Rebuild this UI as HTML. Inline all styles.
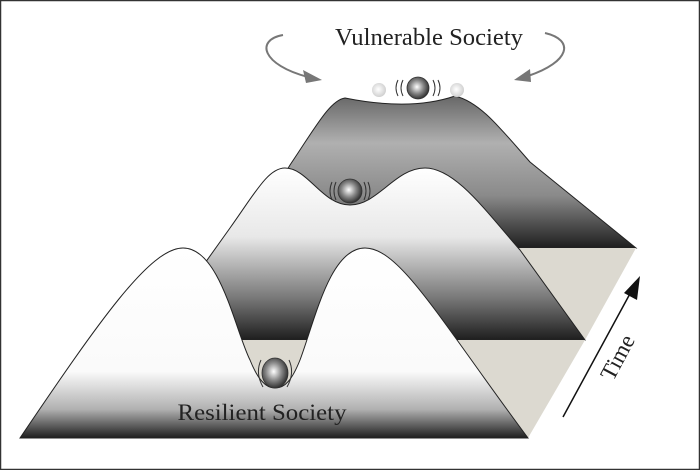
<!DOCTYPE html>
<html><head><style>
html,body{margin:0;padding:0;background:#fff}
svg{display:block}
.t{font-family:"Liberation Serif","Times New Roman","DejaVu Serif",serif;fill:#222}
</style></head><body>
<svg width="700" height="470" viewBox="0 0 700 470" xmlns="http://www.w3.org/2000/svg">
<defs>
<linearGradient id="gb" gradientUnits="userSpaceOnUse" x1="0" y1="98" x2="0" y2="248">
<stop offset="0" stop-color="#6a6a6a"/><stop offset="0.3" stop-color="#b0b0b0"/><stop offset="0.65" stop-color="#8a8a8a"/><stop offset="1" stop-color="#1e1e1e"/></linearGradient>
<linearGradient id="gm" gradientUnits="userSpaceOnUse" x1="0" y1="168" x2="0" y2="340">
<stop offset="0" stop-color="#fff"/><stop offset="0.4" stop-color="#e8e8e8"/><stop offset="0.75" stop-color="#7a7a7a"/><stop offset="1" stop-color="#1e1e1e"/></linearGradient>
<linearGradient id="gf" gradientUnits="userSpaceOnUse" x1="0" y1="248" x2="0" y2="438">
<stop offset="0" stop-color="#fff"/><stop offset="0.65" stop-color="#fafafa"/><stop offset="0.85" stop-color="#b0b0b0"/><stop offset="1" stop-color="#1e1e1e"/></linearGradient>
<radialGradient id="ball" cx="0.45" cy="0.45" r="0.6">
<stop offset="0" stop-color="#fff"/><stop offset="0.5" stop-color="#888"/><stop offset="1" stop-color="#222"/></radialGradient>
<radialGradient id="fball" cx="0.45" cy="0.45" r="0.6">
<stop offset="0" stop-color="#fff"/><stop offset="1" stop-color="#ccc"/></radialGradient>
</defs>
<rect x="0.5" y="0.5" width="699" height="469" fill="#fff" stroke="#333" stroke-width="1.5"/>

<path d="M240,248 L290,165 C315,128 330,100 345,98 C380,105 420,108 455,96 C480,102 500,128 530,162 L636,248 Z" fill="url(#gb)" stroke="#222" stroke-width="1"/>
<polygon points="470,248 636,248 585,340 470,340" fill="#dcd9d0"/>

<path d="M150,340 L230,228 C255,193 268,168 285,168 C308,168 322,205 350,205 C378,205 395,168 425,168 C455,168 485,210 520,250 L585,340 Z" fill="url(#gm)" stroke="#222" stroke-width="1"/>
<polygon points="200,340 585,340 528,438 180,438" fill="#dcd9d0"/>

<path d="M20,438 C100,320 150,248 183,248 C220,248 235,330 250,360 C258,380 266,388 275,388 C285,388 292,380 300,360 C315,320 330,248 365,248 C400,248 440,320 528,438 Z" fill="url(#gf)" stroke="#222" stroke-width="1"/>

<circle cx="379" cy="90" r="7" fill="url(#fball)"/>
<circle cx="457" cy="90" r="7" fill="url(#fball)"/>
<circle cx="418" cy="88" r="11" fill="url(#ball)" stroke="#333" stroke-width="0.8"/>
<g fill="none" stroke="#333" stroke-width="1">
<path d="M403,80 Q399,88 403,96"/><path d="M398,80 Q394,88 398,96"/>
<path d="M433,80 Q437,88 433,96"/><path d="M438,80 Q442,88 438,96"/>
<path d="M336,182 Q332,191 336,200"/><path d="M332,182 Q328,191 332,200"/>
<path d="M364,182 Q368,191 364,200"/><path d="M368,182 Q372,191 368,200"/>
<path d="M261,360 Q255,373 263,387"/><path d="M289,360 Q295,373 287,387"/>
</g>
<circle cx="350" cy="191" r="12" fill="url(#ball)" stroke="#333" stroke-width="0.8"/>
<ellipse cx="275" cy="373" rx="13" ry="15" fill="url(#ball)" stroke="#333" stroke-width="0.8"/>

<g stroke="#777" stroke-width="2" fill="none">
<path d="M283,35 C255,40 262,65 308,77"/>
<path d="M545,33 C575,40 570,62 528,76"/>
</g>
<polygon points="322,80 303,70 306,83" fill="#777"/>
<polygon points="514,80 530,69 531,82" fill="#777"/>

<line x1="563" y1="417" x2="632" y2="290" stroke="#111" stroke-width="1.5"/>
<polygon points="640,276 624,293 637,300" fill="#111"/>

<text class="t" x="429" y="45" text-anchor="middle" font-size="24" textLength="188" lengthAdjust="spacingAndGlyphs">Vulnerable Society</text>
<text class="t" x="262" y="420" text-anchor="middle" font-size="23" textLength="169" lengthAdjust="spacingAndGlyphs">Resilient Society</text>
<text class="t" x="0" y="0" transform="translate(613,382) rotate(-62)" font-size="23">Time</text>
</svg>
</body></html>
